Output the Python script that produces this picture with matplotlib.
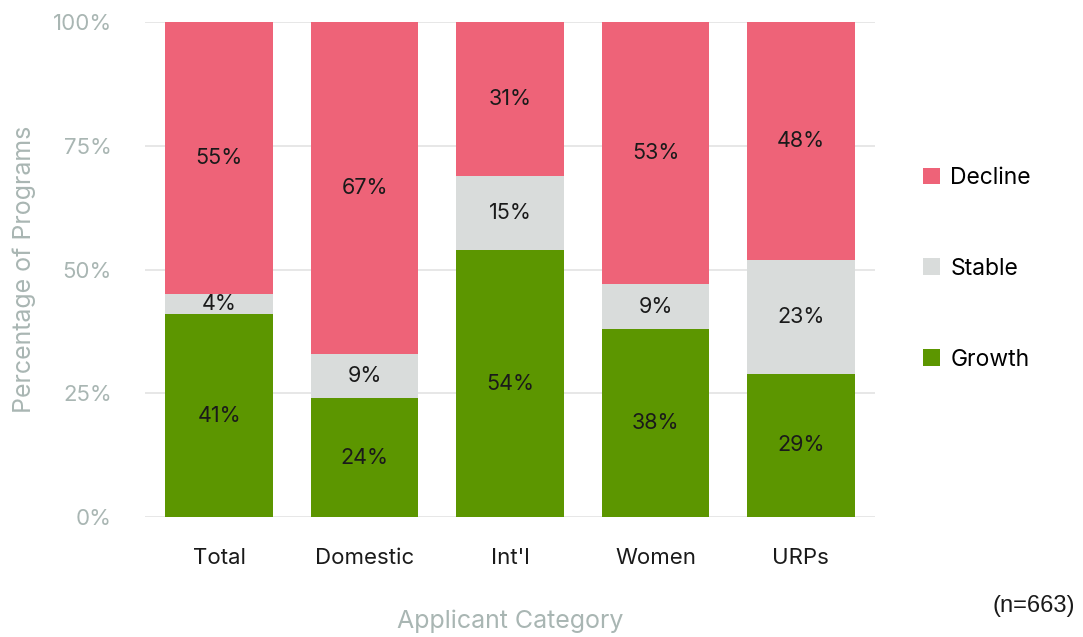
import matplotlib.pyplot as plt
import numpy as np

plt.rcParams['font.family'] = ['Inter', 'DejaVu Sans']

categories = ['Total', 'Domestic', "Int'l", 'Women', 'URPs']
growth = [41, 24, 54, 38, 29]
stable = [4, 9, 15, 9, 23]
decline = [55, 67, 31, 53, 48]
y_ticks = [0, 25, 50, 75, 100]

c_decline = '#EE6378'
c_stable = '#D9DCDB'
c_growth = '#5C9600'
grey = '#A9B6B3'

fig = plt.figure(figsize=(10.83, 6.37), dpi=100)
ax = fig.add_axes([0.134, 0.188, 0.674, 0.7775])

x = np.arange(len(categories))
w = 0.74
g = np.array(growth)
s = np.array(stable)
d = np.array(decline)

b1 = ax.bar(x, g, w, color=c_growth, label='Growth', zorder=3)
b2 = ax.bar(x, s, w, bottom=g, color=c_stable, label='Stable', zorder=3)
b3 = ax.bar(x, d, w, bottom=g + s, color=c_decline, label='Decline', zorder=3)

for i in range(len(categories)):
    ax.text(x[i], g[i] / 2, f'{growth[i]}%', ha='center', va='center', fontsize=15.5, color='#1a1a1a', zorder=4)
    ax.text(x[i], g[i] + s[i] / 2, f'{stable[i]}%', ha='center', va='center', fontsize=15.5, color='#1a1a1a', zorder=4)
    ax.text(x[i], g[i] + s[i] + d[i] / 2, f'{decline[i]}%', ha='center', va='center', fontsize=15.5, color='#1a1a1a', zorder=4)

ax.set_xlim(-0.51, 4.51)
ax.set_ylim(0, 100)
ax.set_yticks(y_ticks)
ax.set_yticklabels([f'{t}%' for t in y_ticks], color=grey, fontsize=16)
ax.set_xticks(x)
ax.set_xticklabels(categories, fontsize=16, color='#1a1a1a')
ax.tick_params(axis='both', length=0)
ax.tick_params(axis='x', pad=22)
ax.tick_params(axis='y', pad=24)
ax.yaxis.grid(True, color='#E3E3E3', linewidth=1.2, zorder=0)
for sp in ax.spines.values():
    sp.set_visible(False)

ax.set_ylabel('Percentage of Programs', color=grey, fontsize=18, labelpad=12)
ax.set_xlabel('Applicant Category', color=grey, fontsize=18, labelpad=30)

leg = fig.legend(handles=[b3, b2, b1], labels=['Decline', 'Stable', 'Growth'],
                 loc='center left', bbox_to_anchor=(0.833, 0.578), frameon=False,
                 fontsize=16.5, labelspacing=3.0, handlelength=0.75, handleheight=0.75,
                 handletextpad=0.45)

fig.text(0.993, 0.048, '(n=663)', ha='right', va='center', fontsize=17, color='#1a1a1a',
         family=['Liberation Sans', 'DejaVu Sans'])

fig.savefig('out.png', dpi=100)
